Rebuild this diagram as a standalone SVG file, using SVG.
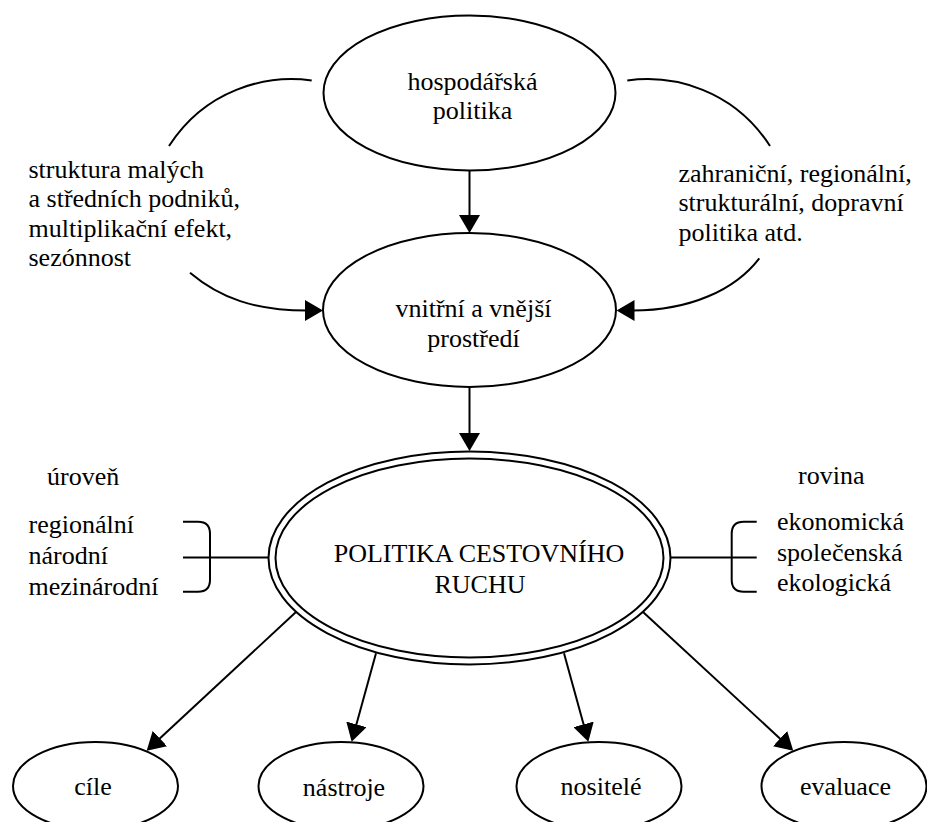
<svg xmlns="http://www.w3.org/2000/svg" width="927" height="822" viewBox="0 0 927 822">
<style>
text{font-family:"Liberation Serif","Times New Roman",serif;font-size:26px;fill:#000}
.c{text-anchor:middle}
.sh{fill:none;stroke:#000;stroke-width:2}
.ln{fill:none;stroke:#000;stroke-width:2}
</style>
<defs>
<marker id="arr" viewBox="0 0 18 21" markerWidth="18" markerHeight="21" refX="2" refY="10.5" orient="auto" markerUnits="userSpaceOnUse">
<path d="M0,0 L18,10.5 L0,21 Z" fill="#000"/>
</marker>
</defs>
<rect width="927" height="822" fill="#fff"/>
<g id="hospodarska">
<ellipse class="sh" cx="469.5" cy="93" rx="146" ry="77.5"/>
<text class="c" x="472.5" y="89.5">hospodářská</text>
<text class="c" x="472.5" y="119">politika</text>
</g>
<g id="prostredi">
<ellipse class="sh" cx="469.5" cy="310" rx="146.5" ry="77"/>
<text class="c" x="473.5" y="317">vnitřní a vnější</text>
<text class="c" x="473.5" y="347">prostředí</text>
</g>
<g id="politika">
<ellipse class="sh" cx="469.5" cy="558" rx="201" ry="106.5"/>
<ellipse class="sh" cx="469.5" cy="558" rx="194" ry="99.5"/>
<text class="c" x="479" y="561.5">POLITIKA CESTOVNÍHO</text>
<text class="c" x="480" y="593">RUCHU</text>
</g>
<g id="cile">
<ellipse class="sh" cx="95.5" cy="786" rx="82.5" ry="44"/>
<text class="c" x="93" y="795">cíle</text>
</g>
<g id="nastroje">
<ellipse class="sh" cx="341" cy="786" rx="82.5" ry="44"/>
<text class="c" x="344" y="796">nástroje</text>
</g>
<g id="nositele">
<ellipse class="sh" cx="599" cy="786" rx="82.5" ry="44"/>
<text class="c" x="601" y="795">nositelé</text>
</g>
<g id="evaluace">
<ellipse class="sh" cx="844" cy="786" rx="82.5" ry="44"/>
<text class="c" x="845.5" y="795">evaluace</text>
</g>
<g id="label-left">
<text x="28.5" y="177.5">struktura malých</text>
<text x="28.5" y="207">a středních podniků,</text>
<text x="28.5" y="236.5">multiplikační efekt,</text>
<text x="28.5" y="266">sezónnost</text>
</g>
<g id="label-right">
<text x="678.5" y="181.5">zahraniční, regionální,</text>
<text x="678.5" y="211">strukturální, dopravní</text>
<text x="678.5" y="240.5">politika atd.</text>
</g>
<g id="uroven">
<text x="47" y="485">úroveň</text>
<text x="28.5" y="532.5">regionální</text>
<text x="28.5" y="563.5">národní</text>
<text x="28.5" y="594.5">mezinárodní</text>
</g>
<g id="rovina">
<text x="798" y="483.5">rovina</text>
<text x="777" y="530">ekonomická</text>
<text x="777" y="560.5">společenská</text>
<text x="777" y="591">ekologická</text>
</g>
<g id="connectors">
<path class="ln" d="M311.7,80.5 C265,74 205,90 169,146"/>
<path class="ln" d="M627.3,80.5 C674,74 734,90 770,146"/>
<path class="ln" d="M190,272.7 C220,298 255,310.5 307,310.5" marker-end="url(#arr)"/>
<path class="ln" d="M759.3,258.3 C735,290 690,310.5 632.5,310.5" marker-end="url(#arr)"/>
<path class="ln" d="M469.5,170.5 V217" marker-end="url(#arr)"/>
<path class="ln" d="M469.5,387 V435" marker-end="url(#arr)"/>
<path class="ln" d="M296,612 L158.4,739.8" marker-end="url(#arr)"/>
<path class="ln" d="M376,653.3 L355.9,726.3" marker-end="url(#arr)"/>
<path class="ln" d="M564,653.3 L584.1,726.3" marker-end="url(#arr)"/>
<path class="ln" d="M643,612 L781.5,739.9" marker-end="url(#arr)"/>
<path class="ln" d="M183,521.7 H198 Q210,521.7 210,533.7 V579.7 Q210,591.7 198,591.7 H183"/>
<path class="ln" d="M183,557.5 H268"/>
<path class="ln" d="M756.7,521.7 H743.7 Q731.7,521.7 731.7,533.7 V579.7 Q731.7,591.7 743.7,591.7 H756.7"/>
<path class="ln" d="M670,557.5 H756.7"/>
</g>
</svg>
